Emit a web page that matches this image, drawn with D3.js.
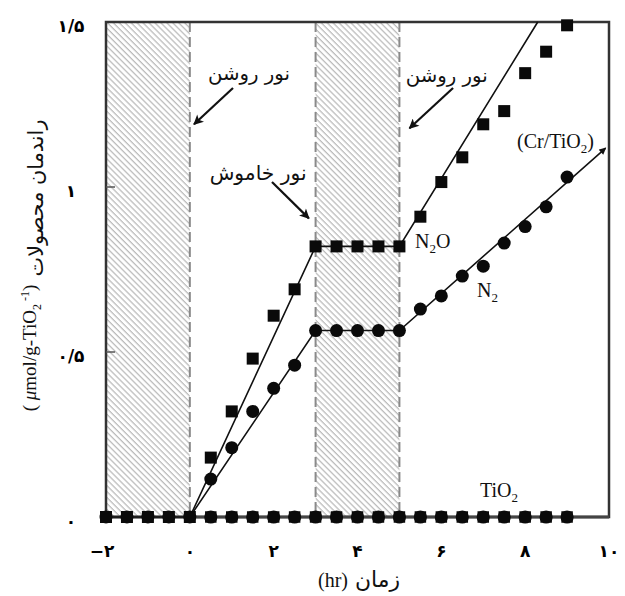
<!DOCTYPE html>
<html>
<head>
<meta charset="utf-8">
<script src="https://cdn.jsdelivr.net/npm/d3@7"></script>
<style>
  html, body { margin: 0; padding: 0; background: #fff; }
  svg { display: block; }
</style>
</head>
<body>
<svg id="chart" width="625" height="596"></svg>
<script>
// ---------- data ----------
const crTime = [-2, -1.5, -1, -0.5, 0, 0.5, 1, 1.5, 2, 2.5, 3, 3.5, 4, 4.5, 5, 5.5, 6, 6.5, 7, 7.5, 8, 8.5, 9];
const crN2O  = [0, 0, 0, 0, 0, 0.18, 0.32, 0.48, 0.61, 0.69, 0.82, 0.82, 0.82, 0.82, 0.82, 0.91, 1.015, 1.09, 1.19, 1.23, 1.345, 1.41, 1.49];
const crN2   = [0, 0, 0, 0, 0, 0.115, 0.21, 0.32, 0.39, 0.46, 0.565, 0.565, 0.565, 0.565, 0.565, 0.63, 0.67, 0.73, 0.76, 0.83, 0.88, 0.94, 1.03];
const tio2Time = [0.5, 1, 1.5, 2, 2.5, 3, 3.5, 4, 4.5, 5, 5.5, 6, 6.5, 7, 7.5, 8, 8.5, 9];
const tio2N2O  = [0, 0, 0, 0, 0, 0, 0, 0, 0, 0, 0, 0, 0, 0, 0, 0, 0, 0];
const tio2N2   = [0, 0, 0, 0, 0, 0, 0, 0, 0, 0, 0, 0, 0, 0, 0, 0, 0, 0];
const fitN2OTime = [-2, 0, 3, 5, 8.3];
const fitN2OVal  = [0, 0, 0.82, 0.82, 1.5];
const fitN2Time  = [0, 3, 5, 9.92];
const fitN2Val   = [0, 0.565, 0.565, 1.118];
const baseTime = [-2, 10];
const baseVal  = [0, 0];
const darkPeriods = [[-2, 0], [3, 5]];
const switchTimes = [0, 3, 5];
const xTicks = [-2, 0, 2, 4, 6, 8, 10];
const xTickLabels = ["−۲", "۰", "۲", "۴", "۶", "۸", "۱۰"];
const yTicks = [0, 0.5, 1, 1.5];
const yTickLabels = ["۰", "۰/۵", "۱", "۱/۵"];
const lightOn = "نور روشن";
const lightOff = "نور خاموش";
const yTitleFa = "راندمان محصولات";
const xTitleFa = "زمان";

// ---------- layout ----------
const svg = d3.select("#chart");
const x = d3.scaleLinear().domain([-2, 10]).range([106, 609]);
const y = d3.scaleLinear().domain([0, 1.5]).range([517, 22]);
const serif = "'Liberation Serif', 'DejaVu Sans', serif";
const faFont = "'DejaVu Sans', sans-serif";

const defs = svg.append("defs");
const pat = defs.append("pattern").attr("id", "hatch")
  .attr("patternUnits", "userSpaceOnUse").attr("width", 4.2).attr("height", 4.2)
  .attr("patternTransform", "rotate(-45)");
pat.append("line").attr("x1", 1).attr("y1", 0).attr("x2", 1).attr("y2", 4.2)
  .attr("stroke", "#a8a8a8").attr("stroke-width", 1);
defs.append("marker").attr("id", "arrow").attr("viewBox", "0 0 10 10")
  .attr("refX", 9).attr("refY", 5).attr("markerWidth", 12).attr("markerHeight", 10)
  .attr("markerUnits", "userSpaceOnUse").attr("orient", "auto")
  .append("path").attr("d", "M0,0 L10,5 L0,10 L2.5,5 z").attr("fill", "#111");
defs.append("marker").attr("id", "arrowSmall").attr("viewBox", "0 0 10 10")
  .attr("refX", 9).attr("refY", 5).attr("markerWidth", 8).attr("markerHeight", 7)
  .attr("markerUnits", "userSpaceOnUse").attr("orient", "auto")
  .append("path").attr("d", "M0,0 L10,5 L0,10 z").attr("fill", "#111");

// hatched dark periods
svg.selectAll("rect.dark").data(darkPeriods).join("rect").attr("class", "dark")
  .attr("x", d => x(d[0])).attr("width", d => x(d[1]) - x(d[0]))
  .attr("y", y(1.5)).attr("height", y(0) - y(1.5))
  .attr("fill", "url(#hatch)");

// dashed switch lines
svg.selectAll("line.sw").data(switchTimes).join("line").attr("class", "sw")
  .attr("x1", d => x(d)).attr("x2", d => x(d))
  .attr("y1", y(1.5)).attr("y2", y(0))
  .attr("stroke", "#8a8a8a").attr("stroke-width", 2).attr("stroke-dasharray", "10,5");

// frame
svg.append("rect").attr("x", x(-2)).attr("y", y(1.5))
  .attr("width", x(10) - x(-2)).attr("height", y(0) - y(1.5))
  .attr("fill", "none").attr("stroke", "#333").attr("stroke-width", 2.5);

// y ticks
svg.selectAll("line.yt").data(yTicks.filter(v => v > 0 && v < 1.5)).join("line").attr("class", "yt")
  .attr("x1", x(-2)).attr("x2", x(-2) + 9)
  .attr("y1", d => y(d)).attr("y2", d => y(d))
  .attr("stroke", "#555").attr("stroke-width", 1.5);

// lines
const line = d3.line().x(d => x(d[0])).y(d => y(d[1]));
svg.append("path").datum(baseTime.map((t, i) => [t, baseVal[i]]))
  .attr("d", line).attr("stroke", "#444").attr("stroke-width", 3).attr("fill", "none");
svg.append("path").datum(fitN2OTime.map((t, i) => [t, fitN2OVal[i]]))
  .attr("d", line).attr("stroke", "#111").attr("stroke-width", 1.6).attr("fill", "none");
svg.append("path").datum(fitN2Time.map((t, i) => [t, fitN2Val[i]]))
  .attr("d", line).attr("stroke", "#111").attr("stroke-width", 1.6).attr("fill", "none")
  .attr("marker-end", "url(#arrowSmall)");

// markers
function circles(xs, ys, r) {
  svg.append("g").selectAll("circle").data(xs.map((t, i) => [t, ys[i]])).join("circle")
    .attr("cx", d => x(d[0])).attr("cy", d => y(d[1])).attr("r", r).attr("fill", "#0a0a0a");
}
function squares(xs, ys, s) {
  svg.append("g").selectAll("rect").data(xs.map((t, i) => [t, ys[i]])).join("rect")
    .attr("x", d => x(d[0]) - s / 2).attr("y", d => y(d[1]) - s / 2)
    .attr("width", s).attr("height", s).attr("fill", "#0a0a0a");
}
squares(tio2Time, tio2N2O, 11.5);
circles(tio2Time, tio2N2, 6.6);
circles(crTime, crN2, 6.5);
squares(crTime, crN2O, 12);

// tick labels
svg.selectAll("text.yl").data(yTicks).join("text").attr("class", "yl")
  .attr("x", 71).attr("y", d => y(d) + 4)
  .attr("text-anchor", "middle").attr("dominant-baseline", "central")
  .attr("font-family", faFont).attr("font-weight", "bold").attr("font-size", 17)
  .text((d, i) => yTickLabels[i]);
svg.selectAll("text.xl").data(xTicks).join("text").attr("class", "xl")
  .attr("x", d => x(d) - (d === -2 ? 4 : 0)).attr("y", 551)
  .attr("text-anchor", "middle").attr("dominant-baseline", "central")
  .attr("font-family", faFont).attr("font-weight", "bold").attr("font-size", 17)
  .text((d, i) => xTickLabels[i]);

function fit(sel, target) {
  const w = sel.node().getComputedTextLength();
  const fs = parseFloat(sel.attr("font-size"));
  if (w > 0) sel.attr("font-size", fs * target / w);
  return sel;
}

// annotations (data coordinates)
function arrow(x0, y0, x1, y1) {
  svg.append("line").attr("x1", x(x0)).attr("y1", y(y0)).attr("x2", x(x1)).attr("y2", y(y1))
    .attr("stroke", "#111").attr("stroke-width", 2.2).attr("marker-end", "url(#arrow)");
}
function faText(txt, cx, cy, target) {
  const t = svg.append("text").attr("x", x(cx)).attr("y", y(cy))
    .attr("text-anchor", "middle").attr("font-family", faFont).attr("font-size", 18)
    .attr("fill", "#111").text(txt);
  fit(t, target);
}
faText(lightOn, 1.41, 1.324, 82);
arrow(1.03, 1.30, 0.1, 1.19);
faText(lightOff, 1.63, 1.021, 97);
arrow(1.96, 1.015, 2.84, 0.905);
faText(lightOn, 6.13, 1.318, 82);
arrow(6.28, 1.30, 5.24, 1.178);

// Latin series labels
function chem(parts, px, py) {
  const t = svg.append("text").attr("x", px).attr("y", py)
    .attr("font-family", serif).attr("font-size", 20).attr("fill", "#111");
  let shift = 0;
  parts.forEach(p => {
    if (p.sub) {
      t.append("tspan").attr("font-size", 13).attr("dy", 5 - shift).text(p.sub);
      shift = 5;
    } else {
      const s = t.append("tspan").text(p.t);
      if (shift) s.attr("dy", -shift);
      shift = 0;
    }
  });
  return t;
}
chem([{t: "(Cr/TiO"}, {sub: "2"}, {t: ")"}], 517, 148);
chem([{t: "N"}, {sub: "2"}, {t: "O"}], 415, 248);
chem([{t: "N"}, {sub: "2"}], 477, 297);
chem([{t: "TiO"}, {sub: "2"}], 480, 497);

// axis titles
svg.append("text").attr("x", 318).attr("y", 587)
  .attr("font-family", serif).attr("font-size", 20).attr("fill", "#111").text("(hr)");
const xt2 = svg.append("text").attr("x", 400).attr("y", 587).attr("text-anchor", "end")
  .attr("font-family", faFont).attr("font-size", 18).attr("fill", "#111").text(xTitleFa);
fit(xt2, 45);

const yt1 = svg.append("text").attr("transform", "translate(36,198) rotate(-90)")
  .attr("text-anchor", "middle").attr("dominant-baseline", "central")
  .attr("font-family", faFont).attr("font-size", 18).attr("fill", "#111").text(yTitleFa);
fit(yt1, 157);

const yt2 = svg.append("text").attr("transform", "translate(36,348) rotate(-90)")
  .attr("text-anchor", "middle")
  .attr("font-family", serif).attr("font-size", 19).attr("fill", "#111");
yt2.append("tspan").text("( ");
yt2.append("tspan").attr("font-style", "italic").text("μ");
yt2.append("tspan").text("mol/g-TiO");
yt2.append("tspan").attr("font-size", 12).attr("dy", 5).text("2");
yt2.append("tspan").attr("font-size", 12).attr("dy", -12).text(" -1");
yt2.append("tspan").attr("dy", 7).text(")");
</script>
</body>
</html>
